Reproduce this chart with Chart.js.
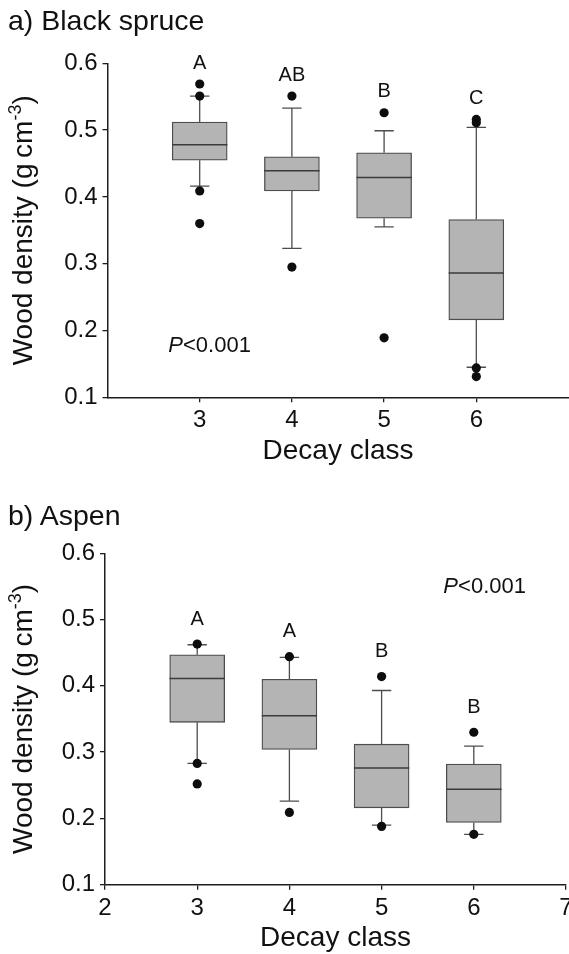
<!DOCTYPE html>
<html>
<head>
<meta charset="utf-8">
<script src="https://cdn.jsdelivr.net/npm/chart.js@4.4.1/dist/chart.umd.min.js"></script>
<style>
  html, body { margin: 0; padding: 0; background: #fff; overflow: hidden; width: 569px; height: 954px; }
  .panel { position: absolute; left: 0; }
  .panel-title {
    position: absolute; left: 8px; color: #111; white-space: nowrap;
    font: 28.5px "Liberation Sans", Arial, sans-serif; line-height: 32px;
  }
  canvas { display: block; }
</style>
</head>
<body>
<div class="panel" style="top:0"><canvas id="spruceChart" width="580" height="470"></canvas></div>
<div class="panel-title" style="top:4px">a) Black spruce</div>
<div class="panel" style="top:470px"><canvas id="aspenChart" width="580" height="484"></canvas></div>
<div class="panel-title" style="top:499px">b) Aspen</div>

<script>
(function () {
  "use strict";

  const FONT = '"Liberation Sans", Arial, sans-serif';

  // ---- data ----
  const decayClasses = [3, 4, 5, 6];
  const yTickValues = [0.1, 0.2, 0.3, 0.4, 0.5, 0.6];
  const spruceXTicks = [3, 4, 5, 6];
  const aspenXTicks = [2, 3, 4, 5, 6, 7];

  // a) Black spruce
  const spruceQ1 = [0.455, 0.409, 0.368, 0.216];
  const spruceMedian = [0.478, 0.439, 0.429, 0.286];
  const spruceQ3 = [0.512, 0.460, 0.466, 0.366];
  const spruceWhiskerLow = [0.416, 0.323, 0.355, 0.145];
  const spruceWhiskerHigh = [0.551, 0.533, 0.499, 0.504];
  const spruceOutliers = [
    [0.569, 0.551, 0.409, 0.360],
    [0.551, 0.295],
    [0.526, 0.189],
    [0.516, 0.511, 0.144, 0.131],
  ];
  const spruceLetters = ["A", "AB", "B", "C"];

  // b) Aspen
  const aspenQ1 = [0.345, 0.304, 0.216, 0.194];
  const aspenMedian = [0.411, 0.355, 0.276, 0.244];
  const aspenQ3 = [0.447, 0.410, 0.312, 0.282];
  const aspenWhiskerLow = [0.283, 0.226, 0.190, 0.176];
  const aspenWhiskerHigh = [0.462, 0.443, 0.393, 0.309];
  const aspenOutliers = [
    [0.463, 0.283, 0.252],
    [0.444, 0.209],
    [0.414, 0.188],
    [0.330, 0.176],
  ];
  const aspenLetters = ["A", "A", "B", "B"];

  const LINE = "#4d4d4d";
  const AXIS = "#1e1e1e";

  // whiskers, medians, letters, P value and axis titles
  function makeDecor(d) {
    return {
      id: "boxDecor",
      beforeDatasetsDraw(chart) {
        const { ctx, scales: { x, y } } = chart;
        ctx.save();
        ctx.strokeStyle = LINE;
        ctx.lineWidth = 1.3;
        decayClasses.forEach((c, i) => {
          const px = x.getPixelForValue(c);
          const cap = x.getPixelForValue(c + 0.105) - px;
          [[d.q3[i], d.hi[i]], [d.q1[i], d.lo[i]]].forEach(([from, to]) => {
            const y0 = y.getPixelForValue(from);
            const y1 = y.getPixelForValue(to);
            ctx.beginPath();
            ctx.moveTo(px, y0);
            ctx.lineTo(px, y1);
            ctx.moveTo(px - cap, y1);
            ctx.lineTo(px + cap, y1);
            ctx.stroke();
          });
        });
        ctx.restore();
      },
      afterDatasetDraw(chart, args) {
        if (args.meta.type !== "bar") return;
        const { ctx, scales: { x, y } } = chart;
        ctx.save();
        ctx.strokeStyle = "#3a3a3a";
        ctx.lineWidth = 1.5;
        decayClasses.forEach((c, i) => {
          const l = x.getPixelForValue(c - 0.3);
          const r = x.getPixelForValue(c + 0.3);
          const py = y.getPixelForValue(d.median[i]);
          ctx.beginPath();
          ctx.moveTo(l, py);
          ctx.lineTo(r, py);
          ctx.stroke();
        });
        ctx.restore();
      },
      afterDraw(chart) {
        const { ctx, chartArea, scales: { x, y } } = chart;
        ctx.save();
        ctx.fillStyle = "#111";

        // significance letters
        ctx.font = `20px ${FONT}`;
        ctx.textAlign = "center";
        ctx.textBaseline = "middle";
        decayClasses.forEach((c, i) => {
          const top = Math.max(d.hi[i], ...d.out[i]);
          ctx.fillText(d.letters[i], x.getPixelForValue(c), y.getPixelForValue(top) - d.letterGap);
        });

        // P value
        ctx.textAlign = "left";
        let px = x.getPixelForValue(d.pAt[0]);
        const py = y.getPixelForValue(d.pAt[1]);
        ctx.font = `italic 22px ${FONT}`;
        ctx.fillText("P", px, py);
        px += ctx.measureText("P").width;
        ctx.font = `22px ${FONT}`;
        ctx.fillText("<0.001", px, py);

        // x title
        ctx.font = `28px ${FONT}`;
        ctx.textAlign = "center";
        ctx.textBaseline = "alphabetic";
        ctx.fillText("Decay class", (chartArea.left + chartArea.right) / 2, d.xTitleBase);

        // y title with superscript
        const main = "Wood density (g\u2009cm";
        ctx.font = `28px ${FONT}`;
        const wMain = ctx.measureText(main).width;
        ctx.font = `18px ${FONT}`;
        const wSup = ctx.measureText("-3").width;
        ctx.font = `28px ${FONT}`;
        const wEnd = ctx.measureText(")").width;
        const total = wMain + wSup + wEnd;
        ctx.translate(d.yTitleBase, (chartArea.top + chartArea.bottom) / 2);
        ctx.rotate(-Math.PI / 2);
        ctx.textAlign = "left";
        let tx = -total / 2;
        ctx.fillText(main, tx, 0);
        tx += wMain;
        ctx.font = `18px ${FONT}`;
        ctx.fillText("-3", tx, -11);
        tx += wSup;
        ctx.font = `28px ${FONT}`;
        ctx.fillText(")", tx, 0);
        ctx.restore();
      },
    };
  }

  function buildChart(canvasId, d) {
    const canvas = document.getElementById(canvasId);
    const points = decayClasses.flatMap((c, i) => d.out[i].map((v) => ({ x: c, y: v })));
    const boxes = decayClasses.map((c, i) => ({ x: c, y: [d.q1[i], d.q3[i]] }));

    return new Chart(canvas, {
      type: "scatter",
      data: {
        datasets: [
          {
            type: "scatter",
            data: points,
            pointRadius: 4.6,
            pointBackgroundColor: "#0d0d0d",
            pointBorderWidth: 0,
          },
          {
            type: "bar",
            data: boxes,
            backgroundColor: "#b4b4b4",
            borderColor: LINE,
            borderWidth: 1.3,
            borderSkipped: false,
            barThickness: 55,
          },
        ],
      },
      options: {
        responsive: false,
        animation: false,
        events: [],
        layout: {
          padding: {
            left: 0,
            top: d.area.top,
            right: canvas.width - d.area.right,
            bottom: 0,
          },
        },
        plugins: {
          legend: { display: false },
          tooltip: { enabled: false },
        },
        scales: {
          x: {
            type: "linear",
            min: 2,
            max: 7,
            offset: false,
            afterBuildTicks: (s) => {
              s.ticks = d.xTicks.map((v) => ({ value: v }));
            },
            afterFit: (s) => {
              s.height = canvas.height - d.area.bottom;
            },
            grid: {
              display: true, offset: false, drawOnChartArea: false, drawTicks: true,
              tickLength: 5, color: AXIS, lineWidth: 1.3,
            },
            border: { display: true, color: AXIS, width: 1.5 },
            ticks: { color: "#111", font: { family: FONT, size: 24 }, padding: 4, autoSkip: false, maxRotation: 0 },
          },
          y: {
            type: "linear",
            min: 0.1,
            max: 0.6,
            afterBuildTicks: (s) => {
              s.ticks = yTickValues.map((v) => ({ value: v }));
            },
            afterFit: (s) => {
              s.width = d.area.left;
            },
            grid: {
              display: true, offset: false, drawOnChartArea: false, drawTicks: true,
              tickLength: 5, color: AXIS, lineWidth: 1.3,
            },
            border: { display: true, color: AXIS, width: 1.5 },
            ticks: {
              color: "#111",
              font: { family: FONT, size: 24 },
              padding: 5,
              callback: (v) => Number(v).toFixed(1),
            },
          },
        },
      },
      plugins: [makeDecor(d)],
    });
  }

  buildChart("spruceChart", {
    q1: spruceQ1, median: spruceMedian, q3: spruceQ3,
    lo: spruceWhiskerLow, hi: spruceWhiskerHigh, out: spruceOutliers,
    letters: spruceLetters, letterGap: 21,
    xTicks: spruceXTicks,
    pAt: [2.66, 0.177],
    area: { left: 107.5, right: 568.5, top: 63.3, bottom: 397.3 },
    xTitleBase: 459,
    yTitleBase: 32,
  });

  buildChart("aspenChart", {
    q1: aspenQ1, median: aspenMedian, q3: aspenQ3,
    lo: aspenWhiskerLow, hi: aspenWhiskerHigh, out: aspenOutliers,
    letters: aspenLetters, letterGap: 25,
    xTicks: aspenXTicks,
    pAt: [5.67, 0.549],
    area: { left: 105, right: 566, top: 83.3, bottom: 414.7 },
    xTitleBase: 476,
    yTitleBase: 32,
  });
})();
</script>
</body>
</html>
